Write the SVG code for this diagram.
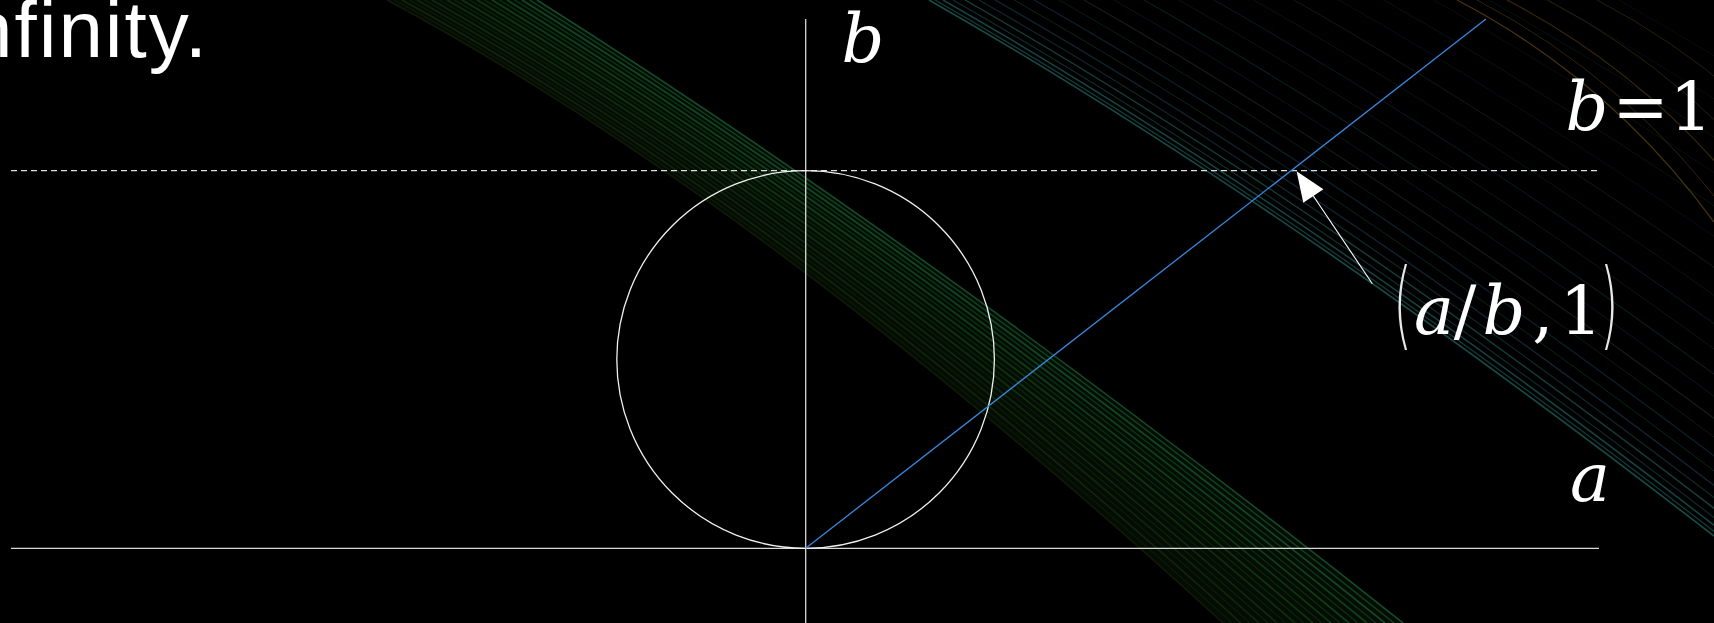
<svg xmlns="http://www.w3.org/2000/svg" width="1714" height="623" viewBox="0 0 1714 623">
<style>
.axis{stroke:#d8d8d8;stroke-width:1.3;fill:none}
.dash{stroke:#e0e0e0;stroke-width:1.2;stroke-dasharray:6 4;fill:none}
.circ{stroke:#f0f0f0;stroke-width:1.3;fill:none}
.ray{stroke:#3a87e0;stroke-width:1.3;fill:none}
.ptr{stroke:#ffffff;stroke-width:1.1;fill:none}
.g{fill:none;stroke:#1f7a28}
.t{fill:none;stroke:#2a8a82}
.o{fill:none;stroke:#8a6420}
.math{font-family:"DejaVu Serif","Liberation Serif",serif;font-size:67px;fill:#ffffff}
.it{font-style:italic}
.par{font-family:"DejaVu Sans","Liberation Sans",sans-serif;font-weight:200;font-size:96px;fill:#e8e8e8}
.title{font-family:"Liberation Sans",Arial,sans-serif;font-size:80px;fill:#ffffff}
</style>
<rect width="1714" height="623" fill="#000000"/>
<g id="streaks">
<path d="M387,0 Q760,200 1223,623 L1403,623 Q930,248 537,0 Z" fill="#0a200a" opacity="0.4"/>
<g class="g">
<path d="M387,0 Q760,200 1223,623" stroke="#3a4a12" stroke-width="1.5" opacity="0.3"/>
<path d="M394.5,0 Q768.5,202.4 1232,623" stroke="#3a4a12" stroke-width="1.2" opacity="0.2"/>
<path d="M402,0 Q777,204.8 1241,623" stroke="#345214" stroke-width="1.6" opacity="0.35"/>
<path d="M409.5,0 Q785.5,207.2 1250,623" stroke="#2e5a16" stroke-width="1.2" opacity="0.2"/>
<path d="M417,0 Q794,209.6 1259,623" stroke="#2e5a16" stroke-width="1.8" opacity="0.3"/>
<path d="M424.5,0 Q802.5,212 1268,623" stroke="#29601a" stroke-width="1.2" opacity="0.25"/>
<path d="M432,0 Q811,214.4 1277,623" stroke="#29601a" stroke-width="1.6" opacity="0.35"/>
<path d="M439.5,0 Q819.5,216.8 1286,623" stroke="#24661c" stroke-width="1.2" opacity="0.2"/>
<path d="M447,0 Q828,219.2 1295,623" stroke="#24661c" stroke-width="1.8" opacity="0.35"/>
<path d="M454.5,0 Q836.5,221.6 1304,623" stroke="#226c20" stroke-width="1.3" opacity="0.25"/>
<path d="M462,0 Q845,224 1313,623" stroke="#226c20" stroke-width="1.8" opacity="0.4"/>
<path d="M469.5,0 Q853.5,226.4 1322,623" stroke="#1f7024" stroke-width="1.3" opacity="0.25"/>
<path d="M477,0 Q862,228.8 1331,623" stroke="#1f7024" stroke-width="1.8" opacity="0.4"/>
<path d="M484.5,0 Q870.5,231.2 1340,623" stroke="#1f742a" stroke-width="1.3" opacity="0.3"/>
<path d="M492,0 Q879,233.6 1349,623" stroke="#1f782e" stroke-width="1.8" opacity="0.45"/>
<path d="M499.5,0 Q887.5,236 1358,623" stroke="#1f7a32" stroke-width="1.4" opacity="0.3"/>
<path d="M507,0 Q896,238.4 1367,623" stroke="#1f7c36" stroke-width="1.8" opacity="0.45"/>
<path d="M514.5,0 Q904.5,240.8 1376,623" stroke="#1f7e3c" stroke-width="1.4" opacity="0.35"/>
<path d="M522,0 Q913,243.2 1385,623" stroke="#208042" stroke-width="1.8" opacity="0.5"/>
<path d="M529.5,0 Q921.5,245.6 1394,623" stroke="#228248" stroke-width="1.4" opacity="0.45"/>
<path d="M537,0 Q930,248 1403,623" stroke="#24844e" stroke-width="1.6" opacity="0.55"/>
</g>
<g class="t">
<path d="M929,0 Q1280,200 1714,536" stroke-width="1.6" opacity="0.55"/>
<path d="M935,0 Q1286,200 1720,536" stroke-width="1.2" opacity="0.45"/>
<path d="M943,0 Q1294,200 1728,536" stroke-width="1.5" opacity="0.5"/>
<path d="M953,0 Q1304,200 1738,536" stroke-width="1.1" opacity="0.35"/>
<path d="M965,0 Q1316,200 1750,536" stroke-width="1.4" opacity="0.45"/>
<path d="M979,0 Q1330,200 1764,536" stroke-width="1.1" opacity="0.3"/>
<path d="M995,0 Q1346,200 1780,536" stroke="#2a6e8a" stroke-width="1.3" opacity="0.35"/>
<path d="M1014,0 Q1365,200 1799,536" stroke-width="1" opacity="0.25"/>
<path d="M1034,0 Q1385,200 1819,536" stroke="#2a6e8a" stroke-width="1.2" opacity="0.3"/>
<path d="M1059,0 Q1410,200 1844,536" stroke-width="1" opacity="0.2"/>
<path d="M1084,0 Q1435,200 1869,536" stroke="#5a6a6a" stroke-width="1.2" opacity="0.25"/>
<path d="M1114,0 Q1465,200 1899,536" stroke="#2a6e8a" stroke-width="1" opacity="0.2"/>
<path d="M1144,0 Q1495,200 1929,536" stroke-width="1.1" opacity="0.22"/>
<path d="M1179,0 Q1530,200 1964,536" stroke="#5a6a6a" stroke-width="1" opacity="0.18"/>
<path d="M1214,0 Q1565,200 1999,536" stroke="#2a6e8a" stroke-width="1.1" opacity="0.2"/>
<path d="M1254,0 Q1605,200 2039,536" stroke-width="1" opacity="0.15"/>
<path d="M1294,0 Q1645,200 2079,536" stroke="#5a6a6a" stroke-width="1.1" opacity="0.18"/>
<path d="M1339,0 Q1690,200 2124,536" stroke="#2a6e8a" stroke-width="1" opacity="0.15"/>
<path d="M1384,0 Q1735,200 2169,536" stroke-width="1" opacity="0.15"/>
<path d="M1434,0 Q1785,200 2219,536" stroke="#5a6a6a" stroke-width="1" opacity="0.12"/>
<path d="M1489,0 Q1840,200 2274,536" stroke-width="1" opacity="0.12"/>
<path d="M1549,0 Q1900,200 2334,536" stroke="#5a6a6a" stroke-width="1" opacity="0.1"/>
<path d="M1619,0 Q1970,200 2404,536" stroke-width="1" opacity="0.1"/>
</g>
<g class="o">
<path d="M1457,0 Q1610,80 1714,222" stroke-width="1.3" opacity="0.5"/>
<path d="M1477,0 Q1630,80 1734,222" stroke-width="1" opacity="0.35"/>
<path d="M1507,0 Q1660,80 1764,222" stroke-width="1.2" opacity="0.4"/>
<path d="M1547,0 Q1700,80 1804,222" stroke-width="1" opacity="0.3"/>
<path d="M1597,0 Q1750,80 1854,222" stroke-width="1" opacity="0.3"/>
</g>
</g>
<text id="title" class="title" x="-32" y="57" textLength="239" lengthAdjust="spacing">nfinity.</text>
<g id="axes">
<line id="axis-b" class="axis" x1="805.7" y1="19" x2="805.7" y2="623"/>
<line id="axis-a" class="axis" x1="11" y1="548.3" x2="1599" y2="548.3"/>
</g>
<g id="line-b1">
<line class="dash" x1="11" y1="170.7" x2="1599" y2="170.7"/>
</g>
<g id="circle">
<circle class="circ" cx="805.6" cy="359.5" r="188.8"/>
</g>
<g id="connectors">
<line id="ray" class="ray" x1="805.7" y1="548.3" x2="1486" y2="19"/>
<line id="pointer" class="ptr" x1="1372.3" y1="283.7" x2="1310" y2="191"/>
<polygon points="1296.6,171.2 1323.4,189.3 1303.3,202.7" fill="#ffffff"/>
</g>
<g id="label-b">
<text class="math it" x="863" y="61.6" text-anchor="middle">b</text>
</g>
<g id="label-b-eq-1">
<text class="math it" x="1587" y="130" text-anchor="middle">b</text>
<text class="math" x="1640.5" y="130" text-anchor="middle">=</text>
<text class="math" x="1691" y="130" text-anchor="middle">1</text>
</g>
<g id="label-point">
<text class="par" transform="translate(1402.5,337) scale(0.5,1)" text-anchor="middle">(</text>
<text class="math it" x="1434" y="333.7" text-anchor="middle">a</text>
<text class="math" x="1465" y="333.7" text-anchor="middle">/</text>
<text class="math it" x="1504" y="333.7" text-anchor="middle">b</text>
<text class="math" x="1543" y="333.7" text-anchor="middle">,</text>
<text class="math" x="1581" y="333.7" text-anchor="middle">1</text>
<text class="par" transform="translate(1609,337) scale(0.5,1)" text-anchor="middle">)</text>
</g>
<g id="label-a">
<text class="math it" x="1590" y="501" text-anchor="middle">a</text>
</g>
</svg>
